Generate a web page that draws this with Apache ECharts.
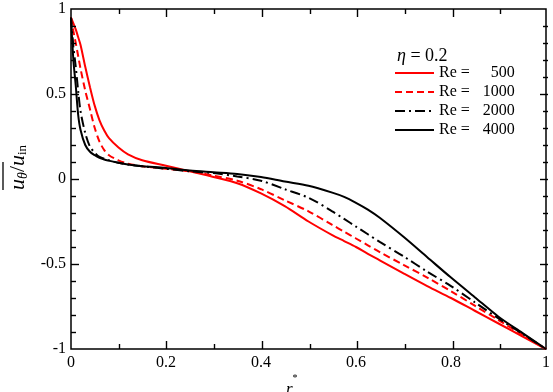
<!DOCTYPE html>
<html>
<head>
<meta charset="utf-8">
<script src="https://cdn.jsdelivr.net/npm/echarts@6/dist/echarts.min.js"></script>
<style>
  html, body { margin: 0; padding: 0; background: #fff; }
  #chart { width: 553px; height: 392px; }
</style>
</head>
<body>
<div id="chart"></div>
<script>
// r* positions shared by all curves
var rValues = [0, 0.005, 0.01, 0.015, 0.02, 0.03, 0.04, 0.05, 0.06, 0.07, 0.08, 0.1, 0.12, 0.15, 0.2,
  0.25, 0.3, 0.35, 0.4, 0.45, 0.5, 0.55, 0.575, 0.6, 0.625, 0.65, 0.7, 0.75, 0.8, 0.85, 0.9, 0.95, 1];

// mean u_theta / u_in for each Reynolds number
var re500 = [0.95, 0.915, 0.88, 0.835, 0.79, 0.66, 0.54, 0.43, 0.345, 0.285, 0.24, 0.185, 0.145, 0.11, 0.078,
  0.045, 0.012, -0.025, -0.085, -0.16, -0.25, -0.33, -0.365, -0.40, -0.44, -0.478, -0.555, -0.63, -0.70, -0.775, -0.85, -0.925, -1];
var re1000 = [0.95, 0.87, 0.80, 0.725, 0.65, 0.52, 0.41, 0.30, 0.22, 0.17, 0.14, 0.11, 0.09, 0.075, 0.06,
  0.045, 0.02, -0.01, -0.06, -0.125, -0.19, -0.27, -0.31, -0.35, -0.39, -0.43, -0.505, -0.58, -0.66, -0.745, -0.83, -0.915, -1];
var re2000 = [0.95, 0.78, 0.66, 0.52, 0.40, 0.27, 0.19, 0.155, 0.13, 0.12, 0.11, 0.095, 0.085, 0.075, 0.06,
  0.045, 0.035, 0.015, -0.01, -0.06, -0.11, -0.19, -0.235, -0.28, -0.325, -0.37, -0.455, -0.545, -0.63, -0.725, -0.82, -0.91, -1];
var re4000 = [0.95, 0.70, 0.55, 0.38, 0.29, 0.20, 0.16, 0.14, 0.125, 0.115, 0.108, 0.095, 0.085, 0.075, 0.065,
  0.05, 0.04, 0.03, 0.012, -0.015, -0.04, -0.08, -0.105, -0.14, -0.18, -0.228, -0.34, -0.46, -0.58, -0.695, -0.81, -0.905, -1];

var seriesNames = ['500', '1000', '2000', '4000'];

// tick positions (major ones get longer marks)
var xTicks = [0.1, 0.2, 0.3, 0.4, 0.5, 0.6, 0.7, 0.8, 0.9];
var xMajor = [0.2, 0.4, 0.6, 0.8];
var yTicks = [-0.9, -0.8, -0.7, -0.6, -0.5, -0.4, -0.3, -0.2, -0.1, 0, 0.1, 0.2, 0.3, 0.4, 0.5, 0.6, 0.7, 0.8, 0.9];
var yMajor = [-0.5, 0, 0.5];

var FONT = '"Liberation Serif", "DejaVu Serif", serif';
var W = 553, H = 392;
var GRID = { left: 71, right: 5, top: 9, bottom: 43 };

function pairs(ys) {
  return rValues.map(function (r, i) { return [r, ys[i]]; });
}

var chart = echarts.init(document.getElementById('chart'));

function axisBase(extra) {
  var base = {
    type: 'value',
    axisLine: { show: false, onZero: false },
    axisTick: { show: false },
    minorTick: { show: false },
    splitLine: { show: false },
    minorSplitLine: { show: false },
    axisLabel: { show: true, color: '#000', fontFamily: FONT, fontSize: 16 }
  };
  for (var k in extra) base[k] = extra[k];
  return base;
}

// inward tick marks on all four sides of the frame
var x0 = GRID.left, x1 = W - GRID.right, y0 = GRID.top, y1 = H - GRID.bottom;
function xPix(v) { return x0 + (v - 0) / (1 - 0) * (x1 - x0); }
function yPix(v) { return y1 - (v + 1) / 2 * (y1 - y0); }
var tickLines = [];
function tick(ax, ay, bx, by) {
  tickLines.push({ type: 'line', silent: true, z: 100,
    shape: { x1: ax, y1: ay, x2: bx, y2: by },
    style: { stroke: '#000', lineWidth: 1.4 } });
}
xTicks.forEach(function (v) {
  var px = Math.round(xPix(v)) + 0.5;
  var len = xMajor.indexOf(v) >= 0 ? 8 : 5;
  tick(px, y1, px, y1 - len);
  tick(px, y0, px, y0 + len);
});
yTicks.forEach(function (v) {
  var py = Math.round(yPix(v)) + 0.5;
  var len = yMajor.indexOf(v) >= 0 ? 8 : 5;
  tick(x0, py, x0 + len, py);
  tick(x1, py, x1 - len, py);
});

var graphics = [
  {
    type: 'text', left: 397, top: 47,
    style: {
      text: '{i|η} = 0.2',
      fontFamily: FONT, fontSize: 18, fill: '#000',
      rich: { i: { fontFamily: FONT, fontSize: 18, fontStyle: 'italic', fill: '#000' } }
    }
  },
  {
    type: 'text', x: 286, y: 369,
    style: {
      text: '{r|r}{s|*}',
      fontFamily: FONT, fill: '#000',
      rich: {
        r: { fontFamily: FONT, fontSize: 17, fontStyle: 'italic', fill: '#000', padding: [12, 0, 0, 0] },
        s: { fontFamily: FONT, fontSize: 10, fill: '#000', verticalAlign: 'top', padding: [4, 0, 0, 0] }
      }
    }
  },
  {
    type: 'text', x: 6, y: 190, rotation: Math.PI / 2,
    style: {
      text: '{u|u}{sub|θ}{n|/}{u|u}{sub2|in}',
      fontFamily: FONT, fill: '#000',
      rich: {
        u: { fontFamily: FONT, fontSize: 22, fontStyle: 'italic', fill: '#000' },
        sub: { fontFamily: FONT, fontSize: 14, fontStyle: 'italic', fill: '#000', padding: [10, 0, 0, 0] },
        sub2: { fontFamily: FONT, fontSize: 13, fill: '#000', padding: [10, 0, 0, 0] },
        n: { fontFamily: FONT, fontSize: 22, fill: '#000' }
      }
    }
  },
  {
    type: 'line', shape: { x1: 3, y1: 162, x2: 3, y2: 190 },
    style: { stroke: '#000', lineWidth: 1.3 }
  }
].concat(tickLines);

var option = {
  animation: false,
  backgroundColor: '#fff',
  grid: { left: GRID.left, right: GRID.right, top: GRID.top, bottom: GRID.bottom, show: true,
    borderColor: '#000', borderWidth: 1.5, backgroundColor: 'transparent' },
  xAxis: axisBase({ min: 0, max: 1, interval: 0.2,
    axisLabel: { show: true, color: '#000', fontFamily: FONT, fontSize: 16, margin: 6 } }),
  yAxis: axisBase({ min: -1, max: 1, interval: 0.5,
    axisLabel: { show: true, color: '#000', fontFamily: FONT, fontSize: 16, margin: 5 } }),
  legend: {
    orient: 'vertical',
    left: 394,
    top: 65,
    padding: 0,
    itemWidth: 39,
    itemHeight: 14,
    itemGap: 3,
    data: seriesNames,
    itemStyle: { opacity: 0 },
    formatter: function (name) { return '{a|Re =}{b|' + name + '}'; },
    textStyle: {
      color: '#000', fontFamily: FONT, fontSize: 16, lineHeight: 16,
      rich: {
        a: { fontFamily: FONT, fontSize: 16, lineHeight: 16, color: '#000' },
        b: { fontFamily: FONT, fontSize: 16, lineHeight: 16, color: '#000', width: 45, align: 'right' }
      }
    }
  },
  graphic: graphics,
  series: [
    { name: '500', data: pairs(re500), lineStyle: { color: '#ff0000', width: 2, type: 'solid' }, color: '#ff0000' },
    { name: '1000', data: pairs(re1000), lineStyle: { color: '#ff0000', width: 2, type: [7, 4] }, color: '#ff0000' },
    { name: '2000', data: pairs(re2000), lineStyle: { color: '#000', width: 2, type: [10, 4, 2, 4] }, color: '#000' },
    { name: '4000', data: pairs(re4000), lineStyle: { color: '#000', width: 2, type: 'solid' }, color: '#000' }
  ].map(function (s) {
    s.type = 'line';
    s.showSymbol = false;
    s.symbol = 'none';
    s.smooth = 0.3;
    return s;
  })
};

chart.setOption(option);
</script>
</body>
</html>
